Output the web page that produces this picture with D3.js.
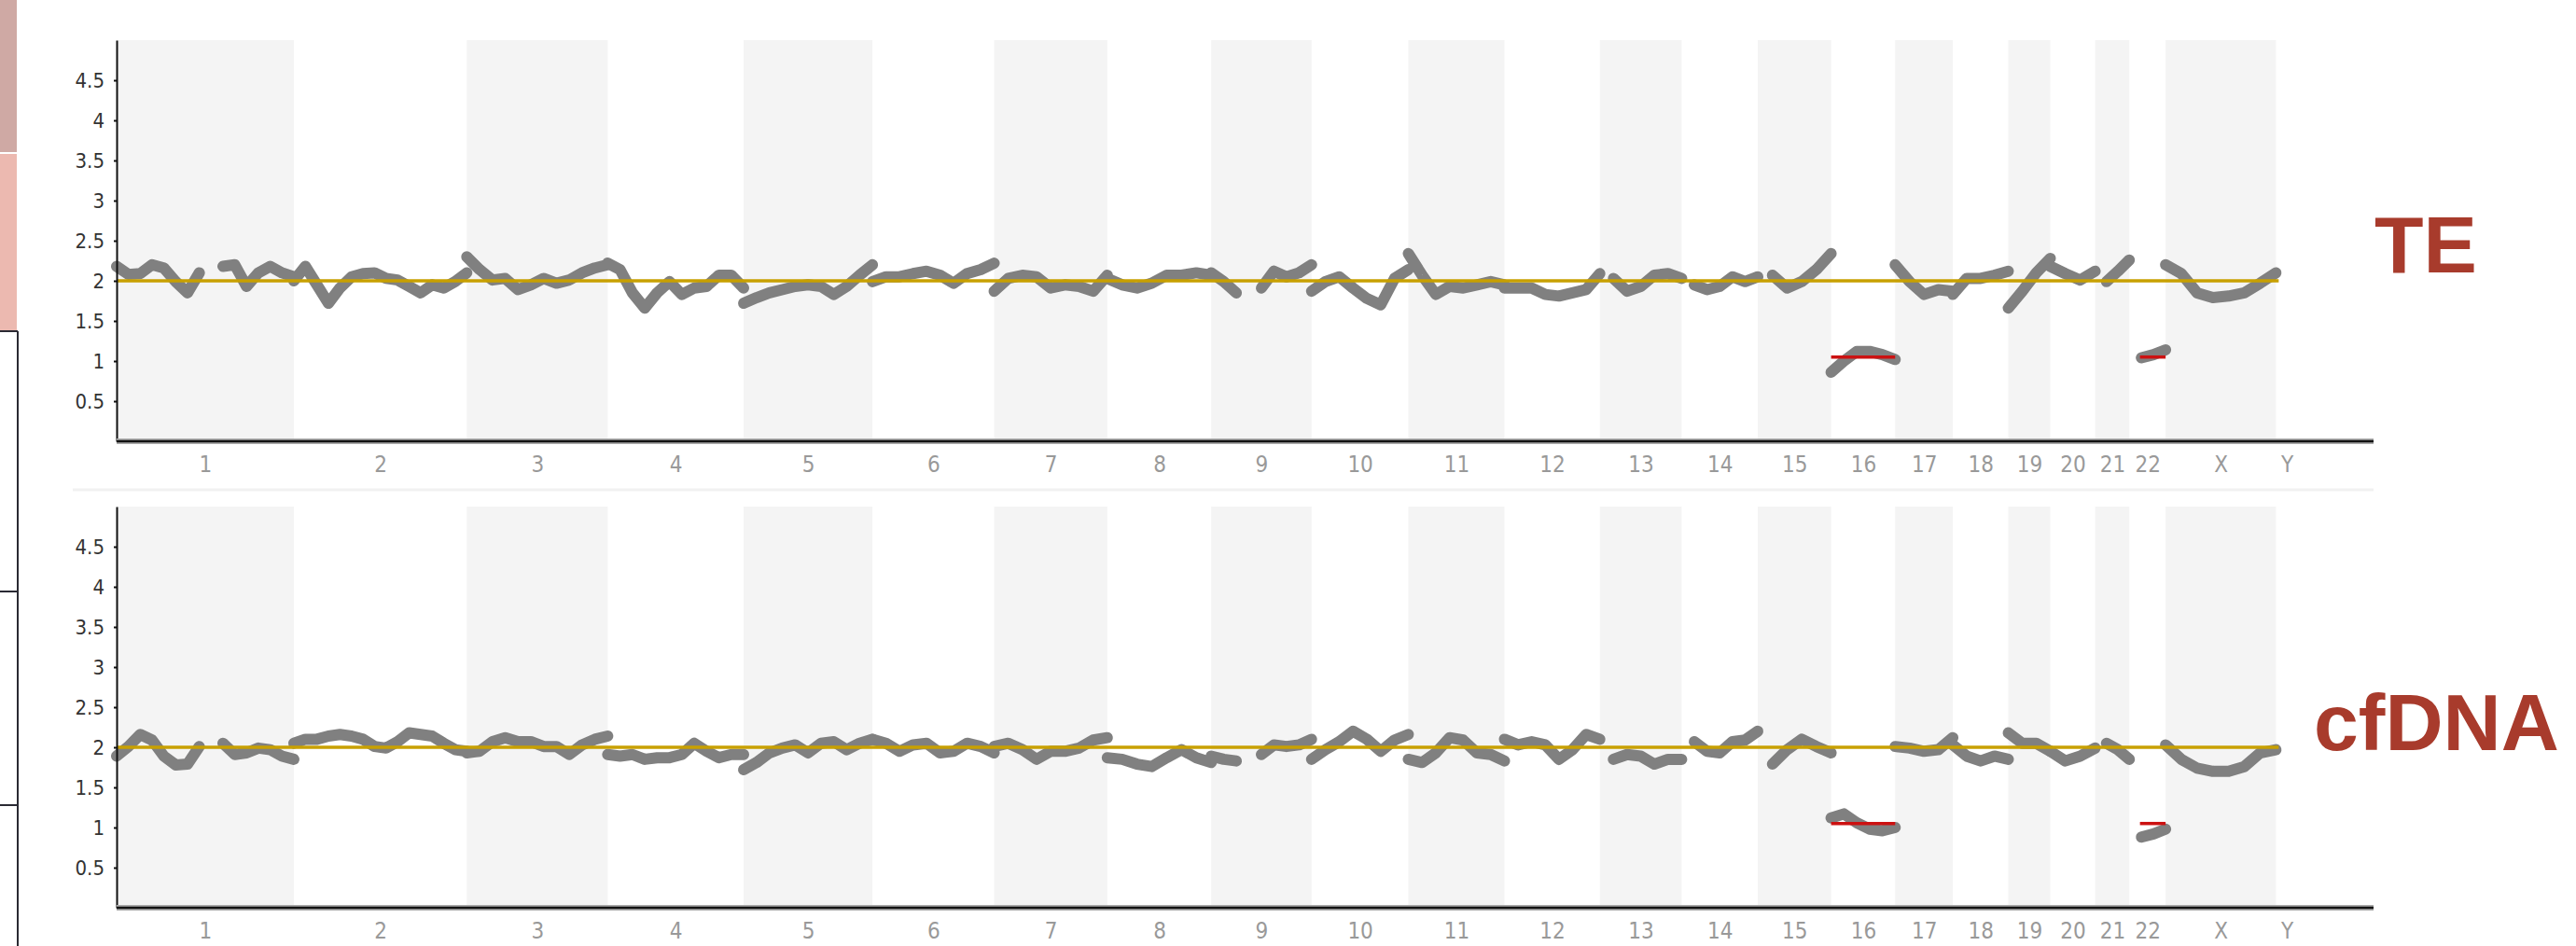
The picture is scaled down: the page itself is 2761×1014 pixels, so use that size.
<!DOCTYPE html>
<html>
<head>
<meta charset="utf-8">
<script src="https://cdn.jsdelivr.net/npm/d3@7"></script>
<style>
  body { margin: 0; background: #fff; }
  svg { display: block; }
</style>
</head>
<body>
<svg id="chart"></svg>
<script>
// chromosome layout (Mb, only the drawn part of Y)
const chromNames = ['1','2','3','4','5','6','7','8','9','10','11','12','13','14','15','16','17','18','19','20','21','22','X','Y'];
const chromLengths = [249,243,198,191,181,171,159,146,141,136,135,134,115,107,103,90,81,78,59,63,48,51,155,31];

// copy number along each chromosome, evenly spaced from start to end (null = no data)
const teValues = [
  [2.18,2.08,2.09,2.2,2.16,1.99,1.85,2.1,null,2.18,2.2,1.93,2.1,2.18,2.1,2.05],
  [2.0,2.18,1.95,1.72,1.91,2.05,2.09,2.1,2.03,2.01,1.93,1.85,1.95,1.91,1.99,2.1],
  [2.3,2.14,2.01,2.03,1.89,1.95,2.03,1.97,2.01,2.1,2.16,2.2],
  [2.22,2.14,1.85,1.66,1.85,1.99,1.83,1.91,1.93,2.07,2.07,1.91],
  [1.72,1.79,1.85,1.89,1.93,1.95,1.93,1.83,1.93,2.07,2.2],
  [1.99,2.05,2.05,2.09,2.12,2.07,1.97,2.09,2.14,2.22],
  [1.87,2.03,2.07,2.05,1.91,1.95,1.93,1.87,2.07],
  [2.03,1.95,1.91,1.97,2.07,2.07,2.1,2.07],
  [2.1,1.99,1.85,null,1.91,2.12,2.05,2.1,2.2],
  [1.87,1.99,2.05,1.91,1.78,1.7,2.03,2.14],
  [2.34,2.07,1.83,1.93,1.91,1.95,1.99,1.95],
  [1.91,1.91,1.91,1.83,1.81,1.85,1.89,2.09],
  [null,2.03,1.87,1.93,2.07,2.09,2.03],
  [null,1.95,1.89,1.93,2.05,1.99,2.05],
  [null,2.07,1.91,1.99,2.14,2.34],
  [0.86,1.0,1.12,1.12,1.08,1.02],
  [2.2,1.99,1.83,1.89,1.87],
  [1.83,2.03,2.03,2.07,2.12],
  [1.66,1.87,2.1,2.28],
  [2.18,2.09,2.01,2.12],
  [null,1.99,2.12,2.26],
  [null,1.04,1.08,1.14],
  [2.2,2.09,1.85,1.79,1.81,1.85,1.97,2.1],
  []
];

const cfdnaValues = [
  [1.89,2.01,2.16,2.09,1.89,1.78,1.79,2.01,null,2.05,1.91,1.93,1.99,1.97,1.89,1.85],
  [2.05,2.1,2.1,2.14,2.16,2.14,2.1,2.01,1.99,2.07,2.18,2.16,2.14,2.05,1.97,1.95],
  [1.93,1.95,2.07,2.12,2.07,2.07,2.01,2.01,1.91,2.03,2.1,2.14],
  [1.91,1.89,1.91,1.85,1.87,1.87,1.91,2.05,1.95,1.87,1.91,1.91],
  [1.72,1.81,1.93,1.99,2.03,1.93,2.05,2.07,1.97,2.05,2.1],
  [2.1,2.05,1.95,2.03,2.05,1.93,1.95,2.05,2.01,1.93],
  [2.01,2.05,1.97,1.85,1.95,1.95,1.99,2.09,2.12],
  [1.87,1.85,1.79,1.76,1.87,1.97,1.87,1.81],
  [1.89,1.85,1.83,null,1.91,2.03,2.01,2.03,2.1],
  [1.85,1.97,2.07,2.2,2.1,1.95,2.09,2.16],
  [1.85,1.81,1.93,2.12,2.09,1.93,1.91,1.83],
  [2.1,2.03,2.07,2.03,1.85,1.97,2.16,2.1],
  [null,1.85,1.91,1.89,1.79,1.85,1.85],
  [null,2.07,1.95,1.93,2.07,2.09,2.2],
  [null,1.79,1.97,2.1,2.01,1.93],
  [1.12,1.17,1.06,0.98,0.96,1.0],
  [2.01,1.99,1.95,1.97,2.12],
  [2.03,1.89,1.83,1.89,1.85],
  [2.18,2.05,2.05,1.95],
  [1.95,1.83,1.89,1.99],
  [null,2.05,1.97,1.85],
  [null,0.88,0.92,0.98],
  [2.03,1.85,1.74,1.7,1.7,1.76,1.93,1.97],
  []
];

const baselineCopy = 2;
// called losses (same in both samples)
const lossChroms = ['16', '22'];
const lossStarts = [0, 15];
const lossEnds = [90, 51];
const lossValue = 1.05;

const yTicks = [0.5, 1, 1.5, 2, 2.5, 3, 3.5, 4, 4.5];

const W = 2761, H = 1014;
const svg = d3.select('#chart').attr('width', W).attr('height', H);

const chromStarts = chromLengths.map((d, i) => d3.sum(chromLengths.slice(0, i)));
const totalLen = d3.sum(chromLengths);
const x = d3.scaleLinear().domain([0, totalLen]).range([125, 2463]);
const axisEndX = 2544;

// edge of the neighbouring figure on the left
svg.append('rect').attr('x', 0).attr('y', 0).attr('width', 18).attr('height', 163).attr('fill', '#cfa9a4');
svg.append('rect').attr('x', 0).attr('y', 165).attr('width', 18).attr('height', 190).attr('fill', '#ecb9b0');
svg.append('line').attr('x1', 19).attr('x2', 19).attr('y1', 355).attr('y2', H)
  .attr('stroke', '#2a2a33').attr('stroke-width', 2);
[355, 634, 863].forEach(yy => {
  svg.append('line').attr('x1', 0).attr('x2', 19).attr('y1', yy).attr('y2', yy)
    .attr('stroke', '#2a2a33').attr('stroke-width', 2);
});

// faint divider between the two plots
svg.append('line').attr('x1', 78).attr('x2', axisEndX).attr('y1', 525).attr('y2', 525)
  .attr('stroke', '#f1f1f1').attr('stroke-width', 3);

function drawPanel(top, values, label, labelX, labelY) {
  const g = svg.append('g').attr('transform', `translate(0,${top})`);
  const y = d3.scaleLinear().domain([0, 5]).range([473, 43]);

  // alternating chromosome bands
  g.selectAll('rect.band')
    .data(chromNames.map((c, i) => i).filter(i => i % 2 === 0))
    .enter()
    .append('rect')
    .attr('class', 'band')
    .attr('x', i => x(chromStarts[i]))
    .attr('width', i => x(chromStarts[i] + chromLengths[i]) - x(chromStarts[i]))
    .attr('y', y(5))
    .attr('height', y(0) - 3 - y(5))
    .attr('fill', '#f4f4f4');

  // copy number profile
  const line = d3.line()
    .defined(d => d.v !== null)
    .x(d => x(d.pos))
    .y(d => y(d.v));

  values.forEach((arr, i) => {
    if (arr.length < 2) return;
    const pts = arr.map((v, j) => ({
      pos: chromStarts[i] + chromLengths[i] * j / (arr.length - 1),
      v: v
    }));
    g.append('path')
      .attr('d', line(pts))
      .attr('fill', 'none')
      .attr('stroke', '#808080')
      .attr('stroke-width', 12)
      .attr('stroke-linejoin', 'round')
      .attr('stroke-linecap', 'round');
  });

  // diploid baseline
  g.append('line')
    .attr('x1', x(0)).attr('x2', x(chromStarts[23]) + 3)
    .attr('y1', y(baselineCopy)).attr('y2', y(baselineCopy))
    .attr('stroke', '#c8a000').attr('stroke-width', 3.5);

  // losses
  lossChroms.forEach((c, k) => {
    const i = chromNames.indexOf(c);
    g.append('line')
      .attr('x1', x(chromStarts[i] + lossStarts[k]))
      .attr('x2', x(chromStarts[i] + lossEnds[k]))
      .attr('y1', y(lossValue)).attr('y2', y(lossValue))
      .attr('stroke', '#cc1111').attr('stroke-width', 3.5);
  });

  // y axis
  const yAxis = d3.axisLeft(y).tickValues(yTicks).tickFormat(d => String(d))
    .tickSize(3).tickSizeOuter(0).tickPadding(10);
  const ya = g.append('g').attr('transform', `translate(${x(0)},0)`).call(yAxis);
  ya.select('.domain').attr('stroke', '#111').attr('stroke-width', 2);
  ya.selectAll('.tick line').attr('stroke', '#111').attr('stroke-width', 2);
  ya.selectAll('text')
    .attr('fill', '#333')
    .style('font-family', '"DejaVu Sans Condensed", "DejaVu Sans", sans-serif')
    .style('font-size', '22px');

  // x axis
  g.append('line').attr('x1', x(0)).attr('x2', axisEndX).attr('y1', y(0)).attr('y2', y(0))
    .attr('stroke', '#aaa').attr('stroke-width', 6);
  g.append('line').attr('x1', x(0)).attr('x2', axisEndX).attr('y1', y(0)).attr('y2', y(0))
    .attr('stroke', '#111').attr('stroke-width', 2.5);

  const mids = chromStarts.map((s, i) => s + chromLengths[i] / 2);
  const xAxis = d3.axisBottom(x).tickValues(mids).tickFormat((d, i) => chromNames[i])
    .tickSize(0).tickPadding(16);
  const xa = g.append('g').attr('transform', `translate(0,${y(0)})`).call(xAxis);
  xa.select('.domain').remove();
  xa.selectAll('text')
    .attr('fill', '#999')
    .style('font-family', '"DejaVu Sans Condensed", "DejaVu Sans", sans-serif')
    .style('font-size', '24px');

  // sample label
  svg.append('text')
    .attr('x', labelX).attr('y', labelY)
    .attr('fill', '#a83b2c')
    .style('font-family', '"Liberation Sans", Arial, sans-serif')
    .style('font-weight', 'bold')
    .style('font-size', '86px')
    .text(label);
}

drawPanel(0, teValues, 'TE', 2545, 292);
drawPanel(500, cfdnaValues, 'cfDNA', 2480, 804);
</script>
</body>
</html>
